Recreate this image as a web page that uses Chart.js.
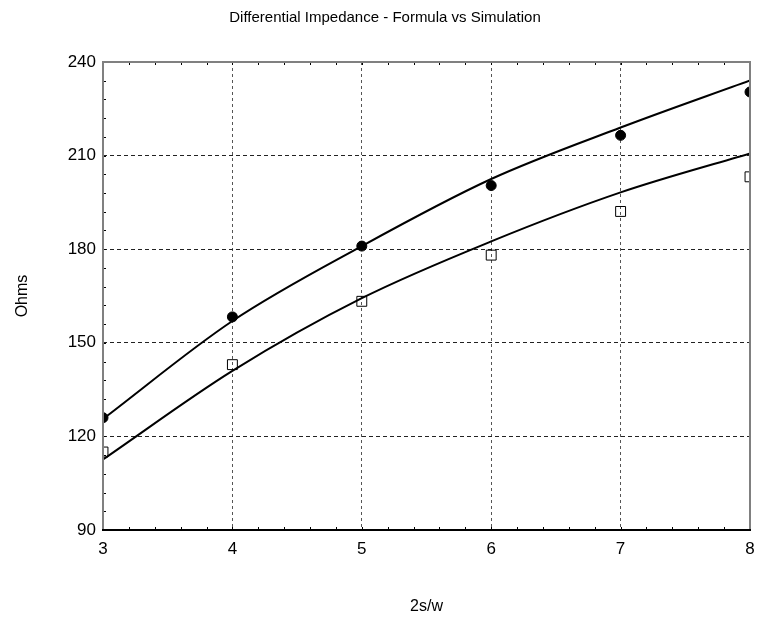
<!DOCTYPE html>
<html>
<head>
<meta charset="utf-8">
<script src="https://cdn.jsdelivr.net/npm/chart.js@4/dist/chart.umd.min.js"></script>
<style>
  html, body { margin: 0; padding: 0; background: #fff; }
  #wrap { width: 758px; height: 619px; }
</style>
</head>
<body>
<div id="wrap"><canvas id="zChart" width="758" height="619"></canvas></div>
<script>
"use strict";

// Data
const ratioX = [3, 4, 5, 6, 7, 8];                           // 2s/w
const formulaHigh = [125.6, 157, 181, 202.5, 219, 234.1];    // upper curve
const formulaLow = [112.6, 141, 164.3, 182.5, 198.2, 210.7]; // lower curve
const simHigh = [126, 158.3, 181, 200.4, 216.5, 230.4];      // filled dots
const simLow = [115, 143, 163.3, 178.1, 192.1, 203.2];       // open squares
const yTicks = [90, 120, 150, 180, 210, 240];

const FONT = "'Liberation Sans', Arial, sans-serif";

function pts(ys) {
  return ratioX.map((x, i) => ({ x: x, y: ys[i] }));
}

// frame + small inward minor ticks
const framePlugin = {
  id: "frame",
  afterDraw(chart) {
    const { ctx, chartArea: a, scales } = chart;
    ctx.save();
    ctx.lineWidth = 1;
    ctx.strokeStyle = "#000";
    ctx.beginPath();
    for (let v = 3.2; v < 8; v += 0.2) {
      const px = Math.round(scales.x.getPixelForValue(v)) + 0.5;
      ctx.moveTo(px, a.bottom); ctx.lineTo(px, a.bottom - 3);
      ctx.moveTo(px, a.top); ctx.lineTo(px, a.top + 3);
    }
    for (let v = 96; v < 240; v += 6) {
      const py = Math.round(scales.y.getPixelForValue(v)) + 0.5;
      ctx.moveTo(a.left, py); ctx.lineTo(a.left + 3, py);
    }
    ctx.stroke();

    ctx.lineWidth = 2;
    ctx.strokeStyle = "#808080";
    ctx.beginPath();
    ctx.moveTo(a.left, a.bottom); ctx.lineTo(a.left, a.top);
    ctx.lineTo(a.right, a.top); ctx.lineTo(a.right, a.bottom);
    ctx.stroke();
    ctx.strokeStyle = "#000";
    ctx.beginPath();
    ctx.moveTo(a.left - 1, a.bottom); ctx.lineTo(a.right + 1, a.bottom);
    ctx.stroke();
    ctx.restore();
  }
};

const ctx = document.getElementById("zChart").getContext("2d");
new Chart(ctx, {
  type: "scatter",
  data: {
    datasets: [
      {
        label: "Formula (upper)",
        data: pts(formulaHigh),
        showLine: true,
        borderColor: "#000",
        borderWidth: 2,
        pointRadius: 0,
        cubicInterpolationMode: "monotone",
        clip: 0
      },
      {
        label: "Formula (lower)",
        data: pts(formulaLow),
        showLine: true,
        borderColor: "#000",
        borderWidth: 2,
        pointRadius: 0,
        cubicInterpolationMode: "monotone",
        clip: 0
      },
      {
        label: "Simulation (upper)",
        data: pts(simHigh),
        pointStyle: "circle",
        pointRadius: 5,
        backgroundColor: "#000",
        borderColor: "#000",
        borderWidth: 1,
        clip: 0
      },
      {
        label: "Simulation (lower)",
        data: pts(simLow),
        pointStyle: "rect",
        pointRadius: 7,
        backgroundColor: "rgba(0,0,0,0)",
        borderColor: "#000",
        borderWidth: 1,
        clip: 0
      }
    ]
  },
  options: {
    responsive: false,
    animation: false,
    layout: { padding: { left: 16, right: 4, top: 0, bottom: 0 } },
    plugins: {
      legend: { display: false },
      tooltip: { enabled: false },
      title: {
        display: true,
        text: "Differential Impedance - Formula vs Simulation",
        color: "#000",
        font: { family: FONT, size: 15, weight: "normal" },
        padding: { top: 9, bottom: 35 }
      }
    },
    scales: {
      x: {
        type: "linear",
        min: 3,
        max: 8,
        afterFit: s => { s.height = 89; s.paddingLeft = 0; s.paddingRight = 0; },
        ticks: {
          stepSize: 1,
          color: "#000",
          padding: 9,
          font: { family: FONT, size: 17 }
        },
        grid: {
          drawTicks: false,
          color: c => (c.tick.value === 3 || c.tick.value === 8) ? "rgba(0,0,0,0)" : "#555",
          lineWidth: 1
        },
        border: { display: false, dash: [3, 3] },
        title: {
          display: true,
          text: "2s/w",
          color: "#000",
          font: { family: FONT, size: 16 },
          padding: { bottom: 3 }
        }
      },
      y: {
        min: 90,
        max: 240,
        afterFit: s => { s.width = 87; },
        afterBuildTicks: s => { s.ticks = yTicks.map(v => ({ value: v })); },
        ticks: {
          color: "#000",
          padding: 7,
          font: { family: FONT, size: 17 }
        },
        grid: {
          drawTicks: false,
          color: c => (c.tick.value === 90 || c.tick.value === 240) ? "rgba(0,0,0,0)" : "#222",
          lineWidth: 1
        },
        border: { display: false, dash: [4, 3] },
        title: {
          display: true,
          text: "Ohms",
          color: "#000",
          font: { family: FONT, size: 16 },
          padding: { top: -3 }
        }
      }
    }
  },
  plugins: [framePlugin]
});
</script>
</body>
</html>
